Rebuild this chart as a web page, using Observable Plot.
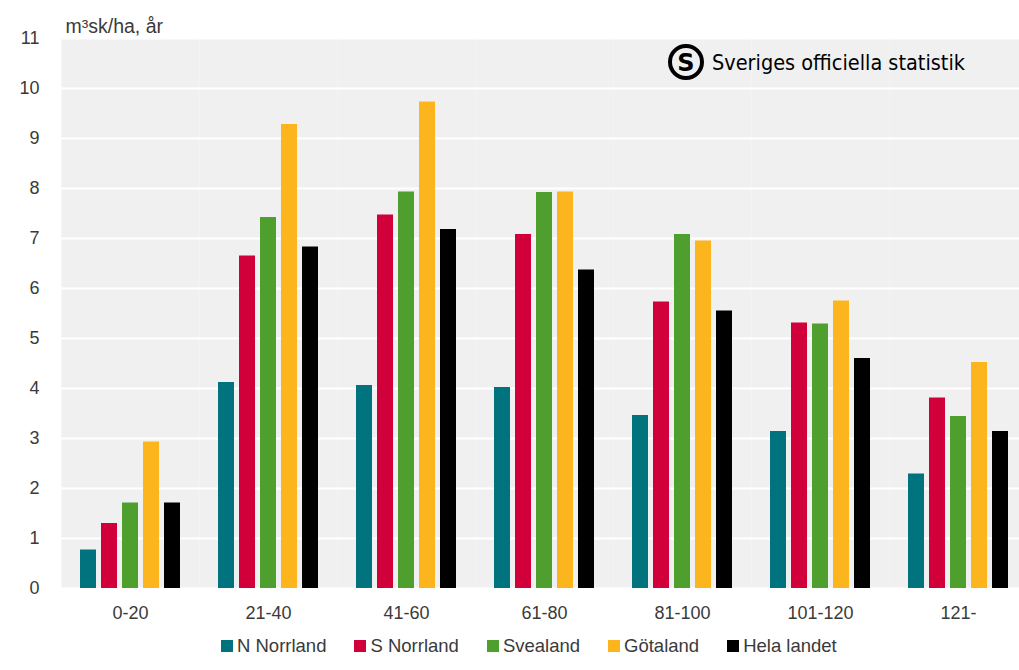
<!DOCTYPE html>
<html>
<head>
<meta charset="utf-8">
<script src="https://cdn.jsdelivr.net/npm/d3@7"></script>
<script src="https://cdn.jsdelivr.net/npm/@observablehq/plot@0.6"></script>
<style>
  html, body { margin: 0; padding: 0; background: white; overflow: hidden; }
  #wrap { position: relative; width: 1019px; height: 670px; }
  #logo { position: absolute; left: 666px; top: 42px; }
  .lg-swatches { font-family: "Liberation Sans", Arial, sans-serif !important; font-size: 18.5px !important; color: #3a3a3a !important; margin: 0 !important; padding-left: 221px; margin-top: -1px !important; }
  .lg-swatch { margin-right: 28px !important; }
  .lg-swatch > svg { margin-right: 4px !important; }
</style>
</head>
<body>
<div id="wrap"></div>
<script>
// ---- data ----
const ageClasses = ["0-20", "21-40", "41-60", "61-80", "81-100", "101-120", "121-"];
const regions = ["N Norrland", "S Norrland", "Svealand", "Götaland", "Hela landet"];
const regionColors = ["#00737e", "#d1003a", "#4f9f2f", "#fdb51e", "#000000"];
const nNorrland  = [0.77, 4.12, 4.06, 4.02, 3.46, 3.14, 2.29];
const sNorrland  = [1.30, 6.65, 7.47, 7.08, 5.73, 5.31, 3.81];
const svealand   = [1.71, 7.42, 7.93, 7.92, 7.08, 5.29, 3.44];
const gotaland   = [2.93, 9.28, 9.73, 7.93, 6.95, 5.75, 4.52];
const helaLandet = [1.71, 6.83, 7.18, 6.37, 5.55, 4.60, 3.14];
const yTicks = [0, 1, 2, 3, 4, 5, 6, 7, 8, 9, 10, 11];
const unitLabel = "m³sk/ha, år";
const logoText = "Sveriges officiella statistik";

const series = [nNorrland, sNorrland, svealand, gotaland, helaLandet];
const rows = [];
ageClasses.forEach((age, i) => {
  regions.forEach((region, j) => {
    rows.push({age, region, value: series[j][i]});
  });
});

const chart = Plot.plot({
  className: "ch",
  width: 1019,
  height: 630,
  marginTop: 38,
  marginBottom: 42,
  marginLeft: 59,
  marginRight: -10,
  style: {fontFamily: "Liberation Sans, Arial, sans-serif", fontSize: "18px", color: "#3a3a3a", background: "white"},
  fx: {domain: ageClasses, padding: 0, label: null, tickSize: 0, tickPadding: 18, axis: "bottom"},
  x: {domain: regions, axis: null, paddingInner: 0.22, paddingOuter: 0.84},
  y: {domain: [0, 11], ticks: yTicks, tickSize: 0, tickPadding: 22, label: null},
  color: {domain: regions, range: regionColors},
  marks: [
    Plot.frame({fill: "#f0f0f0", stroke: null}),
    Plot.ruleY(yTicks, {stroke: "white", strokeWidth: 2}),
    Plot.barY(rows, {fx: "age", x: "region", y: "value", fill: "region"}),
    Plot.text([unitLabel], {fx: [ageClasses[0]], frameAnchor: "top-left", textAnchor: "start", lineAnchor: "bottom", dx: 4, dy: -6, fontSize: 19.5, fill: "#3a3a3a"})
  ]
});

const wrap = document.getElementById("wrap");
wrap.appendChild(chart);
const legend = chart.legend("color", {className: "lg", swatchSize: 12});
wrap.appendChild(legend);

// logo
const ns = "http://www.w3.org/2000/svg";
const logo = document.createElementNS(ns, "svg");
logo.setAttribute("id", "logo");
logo.setAttribute("width", "310");
logo.setAttribute("height", "42");
logo.innerHTML = `
  <circle cx="20" cy="20" r="16" fill="none" stroke="black" stroke-width="4"/>
  <text x="20" y="28.5" text-anchor="middle" font-family="DejaVu Sans, sans-serif" font-weight="bold" font-size="24" fill="black">S</text>
  <text x="46" y="28" font-family="DejaVu Sans Condensed, DejaVu Sans, sans-serif" font-size="21" fill="black" textLength="253" lengthAdjust="spacingAndGlyphs">${logoText}</text>`;
wrap.appendChild(logo);
</script>
</body>
</html>
